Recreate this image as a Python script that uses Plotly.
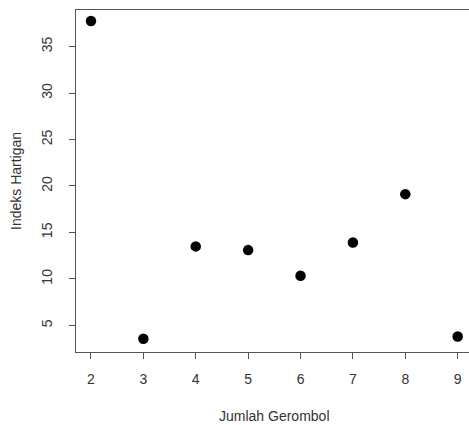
import plotly.graph_objects as go

# Data
jumlah_gerombol = [2, 3, 4, 5, 6, 7, 8, 9]
indeks_hartigan = [37.75, 3.57, 13.5, 13.1, 10.35, 13.92, 19.12, 3.8]
x_ticks = [2, 3, 4, 5, 6, 7, 8, 9]
y_ticks = [5, 10, 15, 20, 25, 30, 35]

W, H = 469, 425
ML, MR, MT, MB = 76, 0, 10, 73
font_family = "Liberation Sans, Arial, sans-serif"
txt_col = "#333333"
line_col = "#555555"

fig = go.Figure(go.Scatter(
    x=jumlah_gerombol, y=indeks_hartigan, mode="markers",
    marker=dict(color="black", size=10.5, line=dict(width=0)),
    hoverinfo="x+y"))

fig.update_layout(
    width=W, height=H,
    margin=dict(l=ML, r=MR, t=MT, b=MB, pad=0),
    paper_bgcolor="white", plot_bgcolor="white",
    showlegend=False,
    font=dict(family=font_family, size=14, color=txt_col),
    xaxis=dict(range=[1.714, 9.216], tickvals=x_ticks,
               showgrid=False, zeroline=False,
               showline=True, linecolor=line_col, linewidth=1.3, mirror=True,
               ticks="outside", ticklen=6, tickcolor=line_col, tickwidth=1.3,
               tickfont=dict(size=14, color=txt_col), ticklabelstandoff=8),
    yaxis=dict(range=[2.14, 38.93], tickvals=y_ticks,
               showgrid=False, zeroline=False,
               showline=True, linecolor=line_col, linewidth=1.3,
               ticks="outside", ticklen=6, tickcolor=line_col, tickwidth=1.3,
               tickangle=-90, tickfont=dict(size=14, color=txt_col),
               ticklabelstandoff=11),
    annotations=[
        dict(text="Jumlah Gerombol", xref="paper", yref="paper",
             x=(274 - ML) / (W - ML - MR), y=(H - MB - 416) / (H - MT - MB),
             xanchor="center", yanchor="middle", showarrow=False,
             font=dict(size=14, color=txt_col)),
        dict(text="Indeks Hartigan", xref="paper", yref="paper",
             x=(16 - ML) / (W - ML - MR), y=0.5, textangle=-90,
             xanchor="center", yanchor="middle", showarrow=False,
             font=dict(size=14, color=txt_col)),
    ],
)

fig.write_html(
    "out.html",
    config={"displayModeBar": False},
    post_script="document.body.style.margin='0';document.body.style.overflow='hidden';",
)
